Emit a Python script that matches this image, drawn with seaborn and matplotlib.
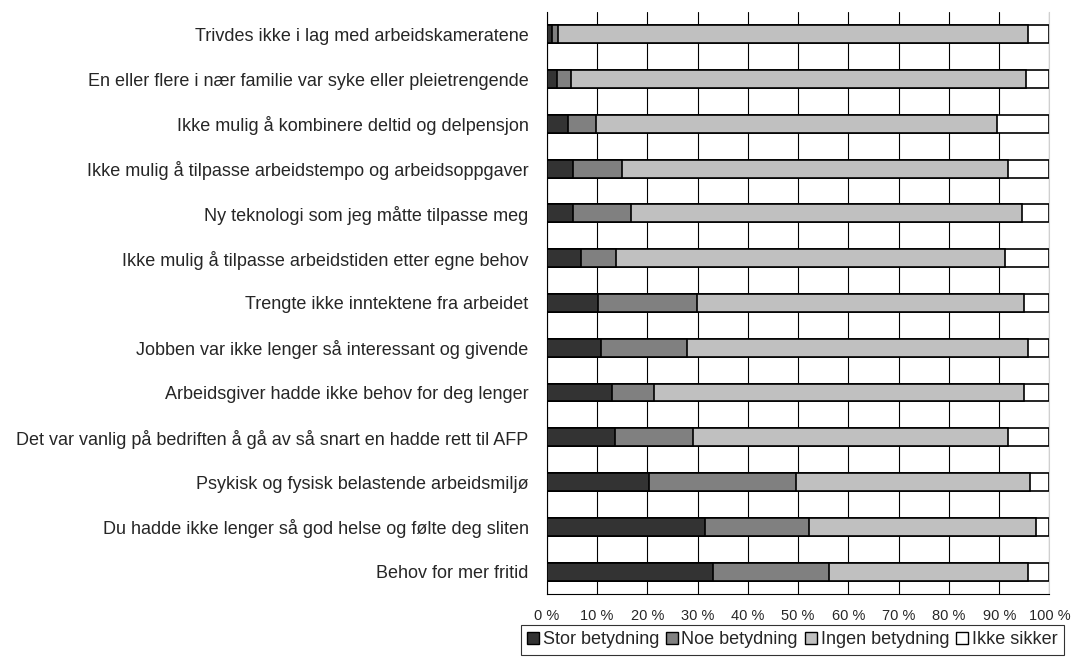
import numpy as np
import pandas as pd
import matplotlib
matplotlib.use("Agg")
import matplotlib.pyplot as plt
import seaborn as sns
from matplotlib.patches import Patch

categories = [
    "Trivdes ikke i lag med arbeidskameratene",
    "En eller flere i nær familie var syke eller pleietrengende",
    "Ikke mulig å kombinere deltid og delpensjon",
    "Ikke mulig å tilpasse arbeidstempo og arbeidsoppgaver",
    "Ny teknologi som jeg måtte tilpasse meg",
    "Ikke mulig å tilpasse arbeidstiden etter egne behov",
    "Trengte ikke inntektene fra arbeidet",
    "Jobben var ikke lenger så interessant og givende",
    "Arbeidsgiver hadde ikke behov for deg lenger",
    "Det var vanlig på bedriften å gå av så snart en hadde rett til AFP",
    "Psykisk og fysisk belastende arbeidsmiljø",
    "Du hadde ikke lenger så god helse og følte deg sliten",
    "Behov for mer fritid",
]
stor = [1.0, 2.1, 4.3, 5.3, 5.3, 6.9, 10.2, 10.7, 12.9, 13.6, 20.3, 31.4, 33.0]
noe = [1.2, 2.7, 5.5, 9.6, 11.4, 6.9, 19.7, 17.3, 8.5, 15.5, 29.3, 20.8, 23.1]
ingen = [93.5, 90.5, 79.7, 76.9, 77.8, 77.3, 65.0, 67.7, 73.5, 62.7, 46.5, 45.1, 39.6]
ikke_sikker = [4.3, 4.7, 10.5, 8.2, 5.5, 8.9, 5.1, 4.3, 5.1, 8.2, 3.9, 2.7, 4.3]

series = ["Stor betydning", "Noe betydning", "Ingen betydning", "Ikke sikker"]
colors = ["#333333", "#808080", "#c0c0c0", "#ffffff"]

df = pd.DataFrame({"kategori": categories, series[0]: stor, series[1]: noe,
                   series[2]: ingen, series[3]: ikke_sikker})

sns.set_style("white")
plt.rcParams["font.family"] = ["Liberation Sans", "DejaVu Sans"]

fig, ax = plt.subplots(figsize=(10.72, 6.6), dpi=100)

# cumulative sums, drawn from the widest so each narrower bar sits on top
cum = df[series].cumsum(axis=1)
for name, col in reversed(list(zip(series, colors))):
    sns.barplot(data=cum.assign(kategori=df["kategori"]), x=name, y="kategori",
                orient="h", color=col, edgecolor="black", linewidth=1.2,
                width=0.4, saturation=1, ax=ax, zorder=3)

ax.set_xlim(0, 100)
ax.set_ylim(len(categories) - 0.5, -0.5)
ax.set_xticks(np.arange(0, 101, 10))
ax.set_xticklabels([f"{v} %" for v in range(0, 101, 10)], fontsize=10.5)
ax.set_xlabel("")
ax.set_ylabel("")
ax.tick_params(axis="y", labelsize=13, length=0, pad=13)
ax.set_yticks(np.arange(-0.5, len(categories), 1), minor=True)
ax.tick_params(axis="y", which="minor", length=6, width=1, color="black", direction="out")
ax.tick_params(axis="x", length=5, width=1, color="black", direction="out", pad=6)

ax.grid(axis="x", color="black", linewidth=0.8, zorder=0)
ax.grid(axis="y", visible=False)
ax.spines["top"].set_visible(False)
ax.spines["right"].set_color("#d0d0d0")
ax.spines["left"].set_color("black")
ax.spines["bottom"].set_color("black")
ax.set_axisbelow(True)

handles = [Patch(facecolor=c, edgecolor="black", label=n) for n, c in zip(series, colors)]
leg = fig.legend(handles=handles, loc="lower center", ncol=4, bbox_to_anchor=(0.739, 0.0),
                 frameon=True, fancybox=False, edgecolor="black", fontsize=13,
                 handlelength=0.65, handleheight=0.65, handletextpad=0.2, columnspacing=0.4,
                 borderpad=0.35, borderaxespad=0.3)
leg.get_frame().set_linewidth(0.8)

fig.subplots_adjust(left=0.51, right=0.979, top=0.982, bottom=0.1)
fig.savefig("out.png", dpi=100)
